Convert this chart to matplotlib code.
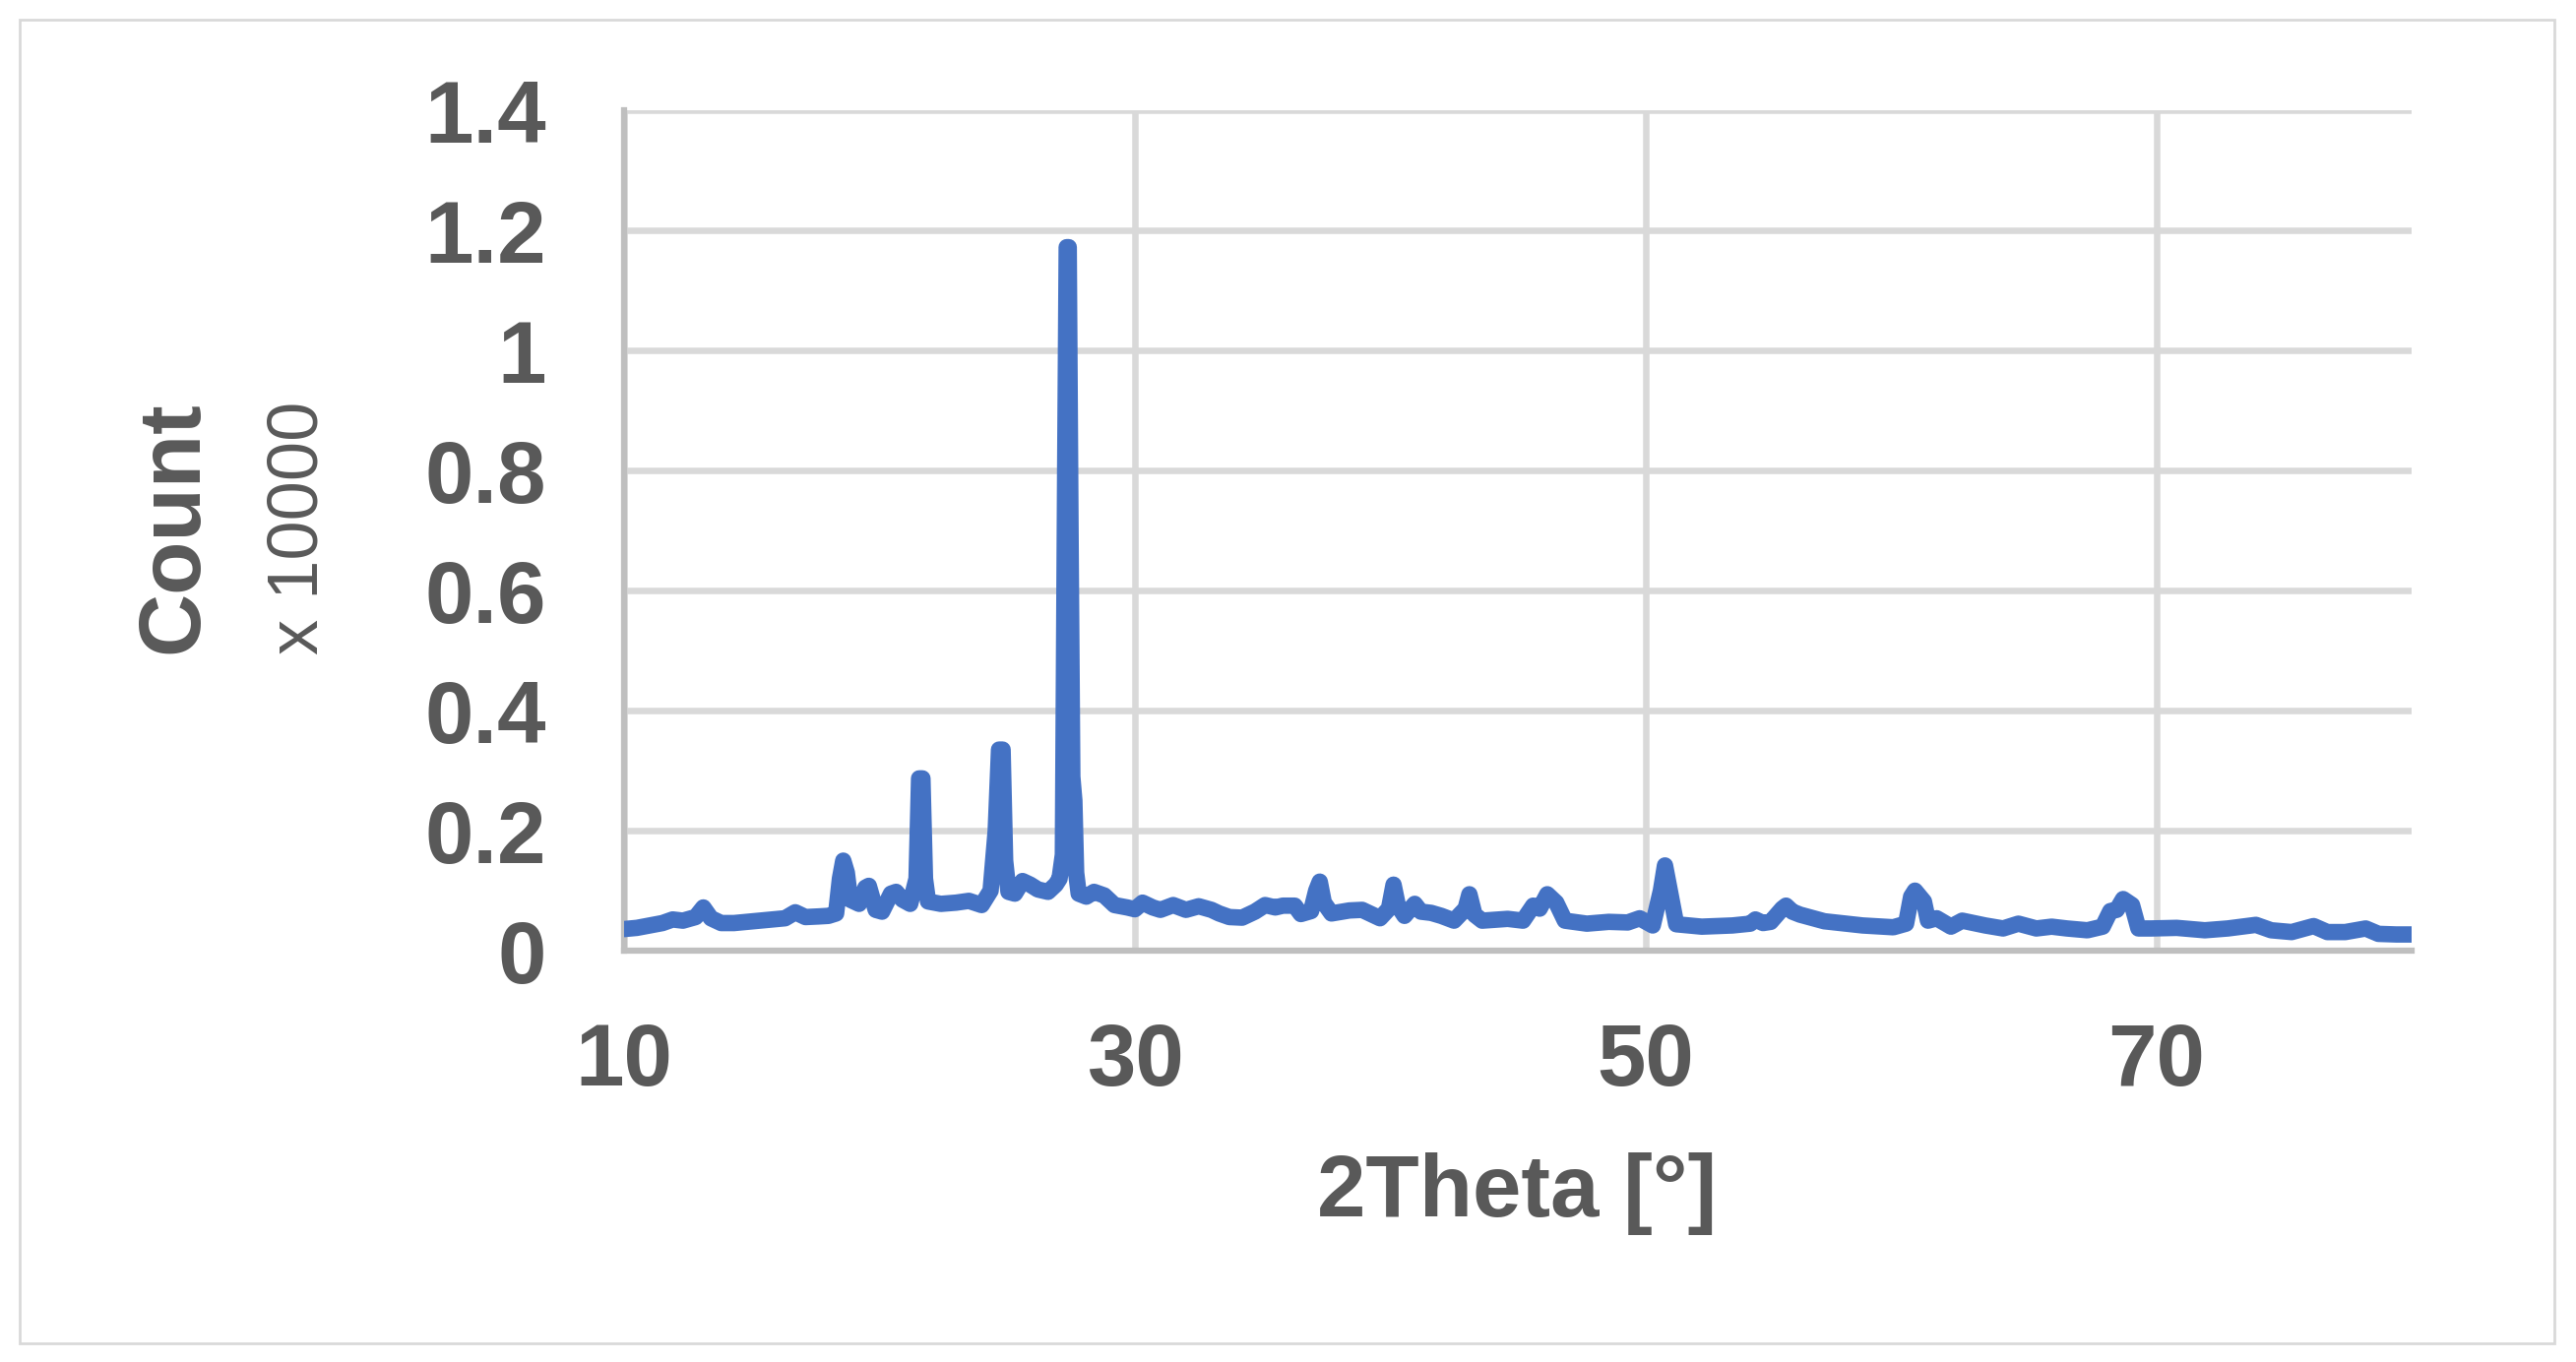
import matplotlib
matplotlib.use('Agg')
import matplotlib.pyplot as plt
from matplotlib.patches import Rectangle

# XRD pattern, counts shown in units of 10000
two_theta = [
    10.0, 10.5, 11.0, 11.5, 11.9, 12.3, 12.8, 13.1, 13.4, 13.8,
    14.3, 14.8, 15.3, 15.8, 16.3, 16.7, 17.1, 17.6, 18.0, 18.3,
    18.45, 18.58, 18.72, 18.85, 19.2, 19.45, 19.58, 19.7, 19.85, 20.1,
    20.45, 20.65, 20.9, 21.2, 21.45, 21.55, 21.68, 21.78, 21.9, 22.4,
    23.0, 23.5, 24.0, 24.35, 24.55, 24.68, 24.82, 24.92, 25.05, 25.3,
    25.6, 25.9, 26.2, 26.6, 26.9, 27.05, 27.18, 27.27, 27.33, 27.41,
    27.48, 27.55, 27.63, 27.7, 27.8, 28.1, 28.4, 28.8, 29.2, 29.7,
    30.0, 30.3, 30.7, 31.0, 31.5, 32.0, 32.5, 33.0, 33.3, 33.7,
    34.2, 34.7, 35.1, 35.5, 35.8, 36.26, 36.5, 36.9, 37.1, 37.24,
    37.4, 37.7, 38.4, 38.9, 39.6, 39.95, 40.13, 40.3, 40.56, 40.96,
    41.2, 41.6, 42.0, 42.5, 42.95, 43.1, 43.3, 43.6, 44.6, 45.2,
    45.6, 45.85, 46.15, 46.5, 46.84, 47.7, 48.56, 49.3, 49.77, 50.28,
    50.6, 50.76, 50.95, 51.2, 52.2, 53.4, 54.1, 54.3, 54.6, 54.9,
    55.35, 55.5, 55.75, 56.05, 57.0, 58.5, 59.7, 60.2, 60.4, 60.55,
    60.9, 61.06, 61.4, 61.96, 62.4, 63.3, 64.0, 64.6, 65.3, 65.9,
    66.5, 67.3, 67.9, 68.2, 68.45, 68.7, 69.05, 69.3, 69.8, 70.8,
    71.9, 72.8, 73.9, 74.5, 75.3, 76.16, 76.7, 77.4, 78.2, 78.7,
    79.4, 80.0,
]
counts = [
    0.036, 0.038, 0.042, 0.046, 0.052, 0.050, 0.056, 0.072, 0.054, 0.046,
    0.046, 0.048, 0.050, 0.052, 0.054, 0.064, 0.056, 0.057, 0.058, 0.062,
    0.120, 0.150, 0.130, 0.085, 0.078, 0.105, 0.108, 0.090, 0.068, 0.065,
    0.095, 0.098, 0.085, 0.078, 0.120, 0.287, 0.287, 0.120, 0.082, 0.078,
    0.080, 0.083, 0.076, 0.100, 0.200, 0.335, 0.335, 0.150, 0.098, 0.095,
    0.116, 0.110, 0.102, 0.098, 0.110, 0.120, 0.160, 0.800, 1.172, 1.172,
    0.700, 0.290, 0.250, 0.130, 0.095, 0.090, 0.098, 0.092, 0.076, 0.072,
    0.069, 0.080, 0.072, 0.068, 0.076, 0.068, 0.074, 0.068, 0.062, 0.056,
    0.055, 0.065, 0.076, 0.072, 0.075, 0.075, 0.061, 0.066, 0.100, 0.115,
    0.080, 0.062, 0.067, 0.068, 0.054, 0.070, 0.110, 0.075, 0.058, 0.078,
    0.065, 0.063, 0.058, 0.050, 0.070, 0.094, 0.060, 0.050, 0.053, 0.050,
    0.075, 0.070, 0.094, 0.080, 0.050, 0.045, 0.048, 0.047, 0.054, 0.042,
    0.100, 0.142, 0.100, 0.044, 0.040, 0.042, 0.045, 0.052, 0.046, 0.048,
    0.070, 0.075, 0.065, 0.060, 0.049, 0.042, 0.039, 0.045, 0.090, 0.100,
    0.082, 0.050, 0.054, 0.040, 0.050, 0.042, 0.037, 0.045, 0.037, 0.040,
    0.037, 0.034, 0.040, 0.066, 0.068, 0.086, 0.076, 0.037, 0.037, 0.038,
    0.034, 0.037, 0.043, 0.034, 0.031, 0.041, 0.031, 0.031, 0.037, 0.028,
    0.027, 0.027,
]

x_ticks = [10, 30, 50, 70]
y_ticks = [0, 0.2, 0.4, 0.6, 0.8, 1, 1.2, 1.4]
y_tick_labels = ['0', '0.2', '0.4', '0.6', '0.8', '1', '1.2', '1.4']

text_color = '#595959'
font = 'Liberation Sans'

fig = plt.figure(figsize=(26.17, 13.84), dpi=100)
ax = fig.add_axes([0.2423, 0.302, 0.6939, 0.617])

ax.plot(two_theta, counts, color='#4472C4', lw=12,
        solid_joinstyle='round', solid_capstyle='round', zorder=3)

ax.set_xlim(10, 80)
ax.set_ylim(0, 1.4)
ax.set_xticks(x_ticks)
ax.set_yticks(y_ticks)
ax.set_yticklabels(y_tick_labels)

ax.grid(True, color='#D9D9D9', lw=4.7, zorder=0)
ax.set_axisbelow(True)

for s in ['top', 'right']:
    ax.spines[s].set_visible(False)
for s in ['left', 'bottom']:
    ax.spines[s].set_color('#BFBFBF')
    ax.spines[s].set_linewidth(4.5)

ax.tick_params(axis='both', length=0, labelcolor=text_color)
ax.tick_params(axis='y', pad=57)
ax.tick_params(axis='x', pad=52)
for lab in ax.get_xticklabels() + ax.get_yticklabels():
    lab.set_fontfamily(font)
    lab.set_fontweight('bold')
    lab.set_fontsize(64)

fig.text(0.5889, 0.1237, '2Theta [°]', ha='center', va='center',
         fontsize=64, fontweight='bold', color=text_color, family=font)
fig.text(0.0676, 0.6127, 'Count', ha='center', va='center', rotation=90,
         fontsize=64, fontweight='bold', color=text_color, family=font)
fig.text(0.1162, 0.6127, 'x 10000', ha='center', va='center', rotation=90,
         fontsize=52, color=text_color, family=font)

# chart area border
fig.patches.append(Rectangle((20 / 2617, 19 / 1384), 2575 / 2617, 1345 / 1384,
                             transform=fig.transFigure, fill=False,
                             edgecolor='#D9D9D9', lw=2))

fig.savefig('out.png', dpi=100, facecolor='white')
